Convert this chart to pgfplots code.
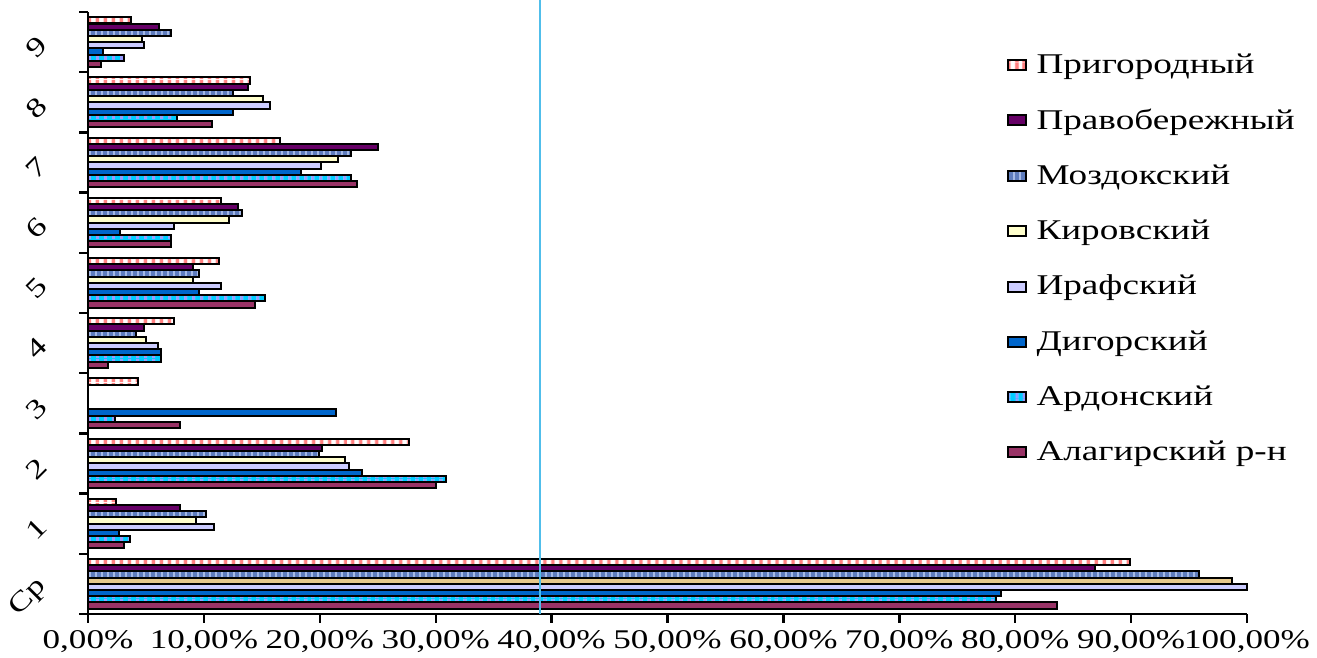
\documentclass[border=0pt]{standalone}
\usepackage{fontspec}
\setmainfont[FakeStretch=1.3]{Liberation Serif}
\usepackage{pgfplots}
\pgfplotsset{compat=1.18}
\usetikzlibrary{patterns.meta}
\definecolor{cAlag}{RGB}{153,51,102}
\definecolor{cArdon}{RGB}{0,204,255}
\definecolor{cArdonP}{RGB}{153,153,255}
\definecolor{cDigor}{RGB}{0,102,204}
\definecolor{cIraf}{RGB}{204,204,255}
\definecolor{cKirov}{RGB}{255,255,204}
\definecolor{cKirovCp}{RGB}{230,200,140}
\definecolor{cMozd}{RGB}{95,125,190}
\definecolor{cMozdP}{RGB}{165,185,230}
\definecolor{cPravo}{RGB}{102,0,102}
\definecolor{cPrig}{RGB}{255,128,128}
\definecolor{vline}{RGB}{80,190,235}
\begin{document}
\begin{tikzpicture}
\begin{axis}[
  scale only axis, width=579.5pt, height=301pt,
  xmin=0, xmax=100, ymin=-0.5, ymax=9.5,
  clip=false,
  axis lines=left, axis line style={-, line width=1.2pt},
  tick align=outside, major tick length=4.5pt,
  every tick/.style={black, line width=1.2pt},
  xtick={0,10,...,100},
  xticklabel={\pgfmathprintnumber[fixed,fixed zerofill,precision=2,use comma,assume math mode=true]{\tick}\%},
  ytick={-0.5,0.5,...,9.5},
  yticklabels={Ср,1,2,3,4,5,6,7,8,9,{}},
  yticklabel style={anchor=east, xshift=-15.5pt, yshift=18pt, rotate=45},
  every tick label/.append style={font=\fontsize{13.5}{16}\selectfont},
  xbar, bar width=3.1pt,
  legend style={at={(0.787,0.945)}, anchor=north west, draw=none, fill=none,
    font=\fontsize{14.3}{17}\selectfont, row sep=12.3pt, /tikz/column sep=3pt},
  legend cell align=left,
  reverse legend,
  legend image code/.code={\draw[#1, line width=1pt] (0pt,-2.5pt) rectangle (9pt,2.5pt);},
]
% Алагирский р-н
\addplot[bar shift=-10.85pt, draw=black, line width=1pt, fill=cAlag] coordinates {
 (83.6,0) (3.1,1) (30.0,2) (7.9,3) (1.7,4) (14.4,5) (7.2,6) (23.2,7) (10.7,8) (1.1,9)};
\addlegendentry{Алагирский р-н}
% Ардонский
\addplot[bar shift=-7.75pt, draw=black, line width=1pt, preaction={fill=cArdon},
  pattern={Lines[angle=90,distance=4pt,line width=1.5pt]}, pattern color=cArdonP] coordinates {
 (78.3,0) (3.6,1) (30.9,2) (2.3,3) (6.3,4) (15.3,5) (7.2,6) (22.7,7) (7.7,8) (3.1,9)};
\addlegendentry{Ардонский}
% Дигорский
\addplot[bar shift=-4.65pt, draw=black, line width=1pt, fill=cDigor] coordinates {
 (78.8,0) (2.7,1) (23.6,2) (21.4,3) (6.3,4) (9.6,5) (2.8,6) (18.4,7) (12.5,8) (1.3,9)};
\addlegendentry{Дигорский}
% Ирафский
\addplot[bar shift=-1.55pt, draw=black, line width=1pt, fill=cIraf] coordinates {
 (100,0) (10.9,1) (22.5,2) (6.0,4) (11.5,5) (7.4,6) (20.1,7) (15.7,8) (4.8,9)};
\addlegendentry{Ирафский}
% Кировский
\addplot[bar shift=1.55pt, draw=black, line width=1pt, fill=cKirov] coordinates {
 (9.3,1) (22.2,2) (5.0,4) (9.1,5) (12.2,6) (21.6,7) (15.1,8) (4.7,9)};
\addlegendentry{Кировский}
\addplot[bar shift=1.55pt, draw=black, line width=1pt, fill=cKirovCp, forget plot] coordinates {
 (98.7,0)};
% Моздокский
\addplot[bar shift=4.65pt, draw=black, line width=1pt, preaction={fill=cMozd},
  pattern={Lines[angle=90,distance=3pt,line width=1pt]}, pattern color=cMozdP] coordinates {
 (95.9,0) (10.2,1) (19.9,2) (4.1,4) (9.6,5) (13.3,6) (22.7,7) (12.5,8) (7.2,9)};
\addlegendentry{Моздокский}
% Правобережный
\addplot[bar shift=7.75pt, draw=black, line width=1pt, fill=cPravo] coordinates {
 (86.9,0) (7.9,1) (20.2,2) (4.8,4) (9.1,5) (12.9,6) (25.0,7) (13.8,8) (6.1,9)};
\addlegendentry{Правобережный}
% Пригородный
\addplot[bar shift=10.85pt, draw=black, line width=1pt, preaction={fill=white},
  pattern={Lines[angle=90,distance=4pt,line width=2pt]}, pattern color=cPrig] coordinates {
 (89.9,0) (2.4,1) (27.7,2) (4.3,3) (7.4,4) (11.3,5) (11.5,6) (16.6,7) (14.0,8) (3.7,9)};
\addlegendentry{Пригородный}
% vertical reference line
\addplot[sharp plot, vline, line width=0.6pt, forget plot] coordinates {(39,-0.5) (39,9.75)};
\coordinate (ll) at (rel axis cs:0,0);
\coordinate (ur) at (rel axis cs:1,1);
\end{axis}
\pgfresetboundingbox
\path (ll) ++(-44pt,-22pt) rectangle ([xshift=35pt,yshift=6pt]ur);
\end{tikzpicture}
\end{document}
